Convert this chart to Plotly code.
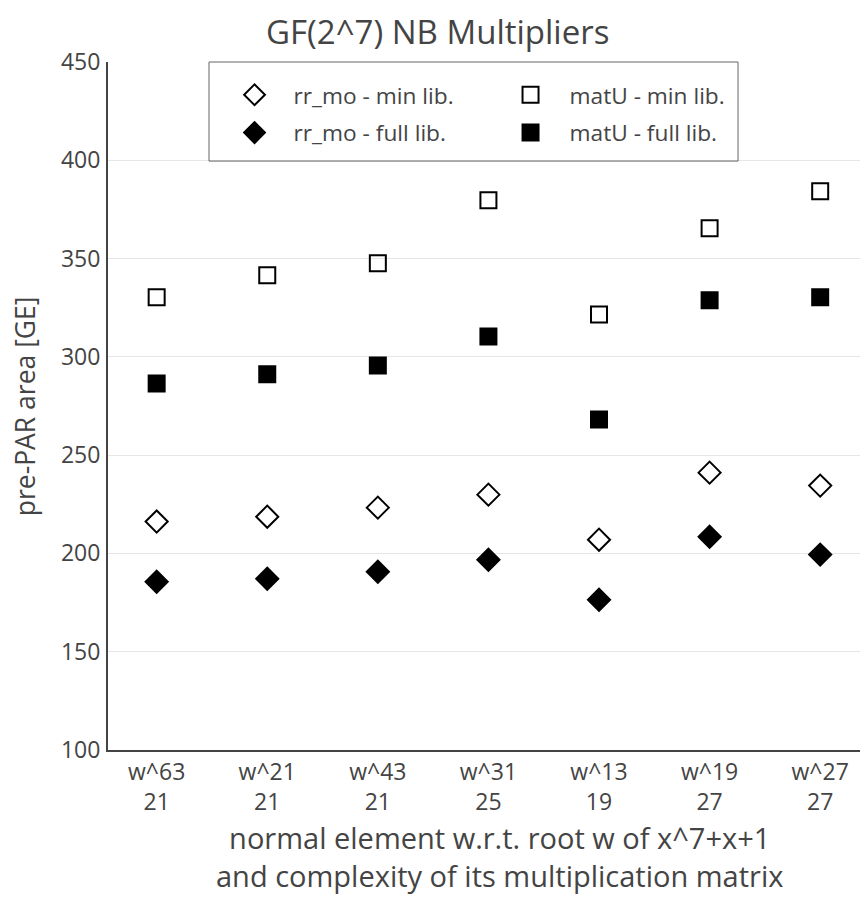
import plotly.graph_objects as go

# Normal elements and the complexity of their multiplication matrix
elements = ["w^63", "w^21", "w^43", "w^31", "w^13", "w^19", "w^27"]
complexity = [21, 21, 21, 25, 19, 27, 27]
categories = [f"{e}<br>{c}" for e, c in zip(elements, complexity)]

# pre-PAR area [GE]
rr_mo_min = [216.2, 218.7, 223.3, 229.9, 207.0, 241.1, 234.5]
rr_mo_full = [185.6, 187.1, 190.7, 196.8, 176.4, 208.5, 199.4]
matU_min = [330.3, 341.5, 347.6, 379.7, 321.6, 365.4, 384.3]
matU_full = [286.5, 291.1, 295.6, 310.4, 268.1, 328.8, 330.3]

x_title = "normal element w.r.t. root w of x^7+x+1<br>and complexity of its multiplication matrix"
y_title = "pre-PAR area [GE]"

FONT = "Open Sans"
TXT = "#444"

# (name, values, symbol, size, legend row)
series = [
    ("rr_mo - min lib.", rr_mo_min, "diamond-open", 17, "legend"),
    ("matU - min lib.", matU_min, "square-open", 16, "legend"),
    ("rr_mo - full lib.", rr_mo_full, "diamond", 17, "legend2"),
    ("matU - full lib.", matU_full, "square", 16, "legend2"),
]

fig = go.Figure()
for name, vals, sym, size, leg in series:
    fig.add_trace(go.Scatter(
        x=categories, y=vals, mode="markers", name=name, legend=leg,
        marker=dict(symbol=sym, size=size, color="black",
                    line=dict(color="black", width=2)),
    ))

legend_row = dict(orientation="h", xanchor="left", yanchor="middle",
                  entrywidth=193, entrywidthmode="pixels", itemwidth=68,
                  borderwidth=0, bgcolor="rgba(0,0,0,0)",
                  font=dict(family=FONT, size=22.7, color=TXT))

fig.update_layout(
    width=860, height=899,
    paper_bgcolor="white", plot_bgcolor="white",
    margin=dict(l=108, r=0, t=62, b=149),
    font=dict(family=FONT, color=TXT, size=22),
    title=dict(text="GF(2^7) NB Multipliers", x=0.509, xref="container",
               xanchor="center", y=0.9644, yanchor="middle",
               font=dict(family=FONT, size=33, color=TXT)),
    showlegend=True,
    legend=dict(legend_row, x=0.143, y=0.952),
    legend2=dict(legend_row, x=0.143, y=0.897),
    shapes=[dict(type="rect", xref="paper", yref="paper",
                 x0=0.1343, x1=0.8378, y0=0.856, y1=1.0,
                 line=dict(color="#666", width=1), fillcolor="rgba(0,0,0,0)",
                 layer="above")],
    annotations=[
        dict(text=x_title, xref="paper", yref="paper", x=0.521, y=-0.1555,
             xanchor="center", yanchor="middle", showarrow=False,
             font=dict(family=FONT, size=29, color=TXT)),
        dict(text=y_title, xref="paper", yref="paper", x=-0.110, y=0.5,
             xanchor="center", yanchor="middle", textangle=-90, showarrow=False,
             font=dict(family=FONT, size=26.5, color=TXT)),
    ],
    xaxis=dict(
        type="category", range=[-0.44, 6.36],
        showline=True, linecolor=TXT, linewidth=2,
        showgrid=False, ticks="",
        tickfont=dict(size=23),
    ),
    yaxis=dict(
        range=[100, 450], dtick=50,
        showline=True, linecolor=TXT, linewidth=2,
        showgrid=True, gridcolor="#e6e6e6", gridwidth=1,
        zeroline=False, ticks="", ticklabelstandoff=1,
        tickfont=dict(size=23),
    ),
)

fig.write_html("out.html")
